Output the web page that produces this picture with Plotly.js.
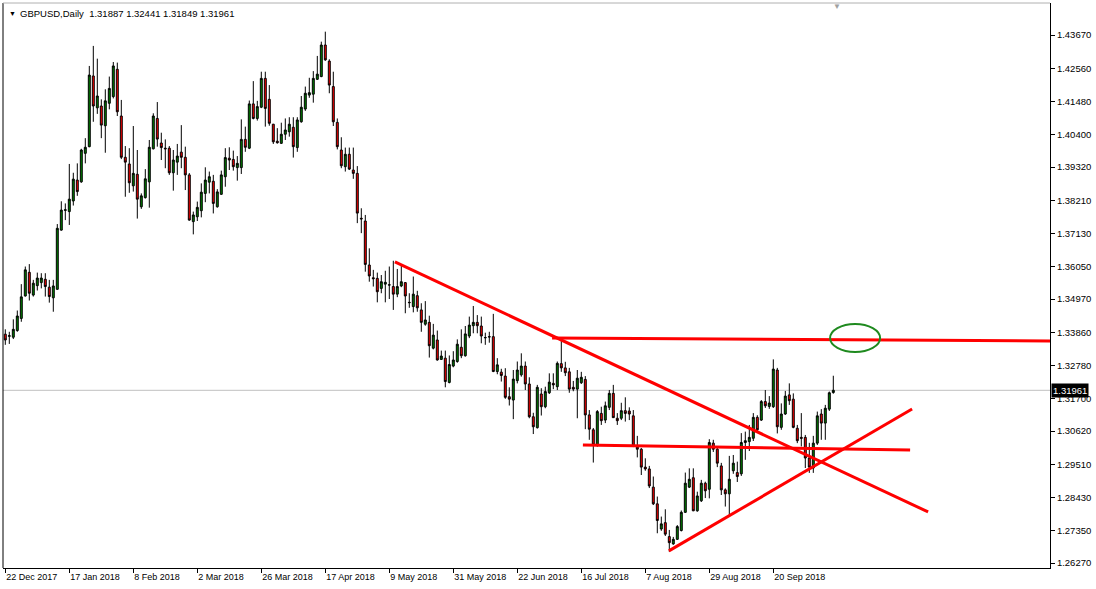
<!DOCTYPE html>
<html><head><meta charset="utf-8">
<script src="https://cdn.plot.ly/plotly-3.0.1.min.js"></script>
<style>html,body{margin:0;padding:0;background:#fff;}#chart{width:1096px;height:589px;}</style>
</head><body><div id="chart"></div>
<script>
const symbolTitle = "GBPUSD,Daily";
const open = [1.3381,1.3374,1.3371,1.3393,1.3433,1.3507,1.3585,1.3510,1.3541,1.3551,1.3562,1.3536,1.3501,1.3529,1.3724,1.3789,1.3785,1.3820,1.3889,1.3883,1.3977,1.3999,1.4232,1.4127,1.4133,1.4068,1.4142,1.4164,1.4254,1.4100,1.3964,1.3942,1.3870,1.3908,1.3801,1.3831,1.3883,1.3992,1.4092,1.4011,1.3994,1.3994,1.3913,1.3948,1.3981,1.3964,1.3906,1.3752,1.3768,1.3788,1.3845,1.3882,1.3885,1.3801,1.3842,1.3900,1.3961,1.3957,1.3930,1.3930,1.4023,1.3994,1.4140,1.4092,1.4129,1.4224,1.4155,1.4073,1.4017,1.4010,1.4040,1.4048,1.4063,1.3996,1.4081,1.4123,1.4169,1.4172,1.4221,1.4230,1.4334,1.4281,1.4197,1.4079,1.3988,1.3933,1.3974,1.3922,1.3911,1.3763,1.3754,1.3609,1.3567,1.3565,1.3532,1.3546,1.3544,1.3538,1.3513,1.3540,1.3551,1.3486,1.3472,1.3508,1.3461,1.3414,1.3420,1.3335,1.3362,1.3298,1.3302,1.3222,1.3276,1.3291,1.3338,1.3310,1.3375,1.3409,1.3420,1.3408,1.3369,1.3373,1.3373,1.3258,1.3256,1.3243,1.3175,1.3164,1.3228,1.3247,1.3276,1.3217,1.3109,1.3073,1.3184,1.3142,1.3188,1.3219,1.3208,1.3284,1.3270,1.3257,1.3206,1.3200,1.3221,1.3232,1.3115,1.3066,1.3016,1.3120,1.3098,1.3140,1.3186,1.3104,1.3104,1.3129,1.3128,1.3112,1.3009,1.3002,1.2943,1.2937,1.2877,1.2822,1.2739,1.2760,1.2714,1.2690,1.2705,1.2734,1.2794,1.2877,1.2908,1.2799,1.2832,1.2890,1.2870,1.3022,1.3002,1.2947,1.2868,1.2855,1.2931,1.2925,1.2921,1.3024,1.3027,1.3038,1.3107,1.3098,1.3159,1.3143,1.3142,1.3263,1.3074,1.3118,1.3181,1.3167,1.3071,1.3041,1.3041,1.2973,1.2940,1.3022,1.3118,1.3088,1.3134,1.31887];
const high = [1.3397,1.3389,1.3430,1.3459,1.3546,1.3604,1.3612,1.3560,1.3584,1.3582,1.3582,1.3560,1.3560,1.3744,1.3819,1.3812,1.3942,1.3913,1.3944,1.3992,1.4027,1.4265,1.4331,1.4289,1.4155,1.4188,1.4230,1.4278,1.4276,1.4153,1.4001,1.3994,1.4067,1.3988,1.3845,1.3925,1.4021,1.4109,1.4146,1.4045,1.4023,1.4001,1.3988,1.4008,1.4070,1.3999,1.3912,1.3785,1.3818,1.3878,1.3931,1.3917,1.3906,1.3859,1.3920,1.3994,1.3997,1.3986,1.3968,1.4089,1.4065,1.4151,1.4215,1.4150,1.4246,1.4246,1.4202,1.4074,1.4060,1.4078,1.4092,1.4096,1.4096,1.4096,1.4166,1.4197,1.4226,1.4248,1.4298,1.4345,1.4378,1.4287,1.4246,1.4092,1.4030,1.3996,1.3996,1.3996,1.3935,1.3796,1.3774,1.3664,1.3593,1.3584,1.3576,1.3590,1.3604,1.3623,1.3596,1.3607,1.3553,1.3516,1.3571,1.3524,1.3483,1.3490,1.3442,1.3415,1.3393,1.3327,1.3327,1.3311,1.3325,1.3364,1.3397,1.3408,1.3439,1.3474,1.3444,1.3439,1.3386,1.3389,1.3448,1.3302,1.3267,1.3269,1.3206,1.3263,1.3291,1.3318,1.3291,1.3239,1.3122,1.3214,1.3203,1.3208,1.3252,1.3252,1.3291,1.3362,1.3290,1.3270,1.3227,1.3263,1.3257,1.3243,1.3131,1.3072,1.3131,1.3142,1.3159,1.3197,1.3214,1.3121,1.3155,1.3173,1.3140,1.3131,1.3046,1.3006,1.2972,1.2947,1.2912,1.2846,1.2780,1.2804,1.2736,1.2713,1.2752,1.2800,1.2925,1.2939,1.2939,1.2862,1.2901,1.2895,1.3035,1.3033,1.3010,1.2957,1.2873,1.2980,1.2983,1.2961,1.3055,1.3060,1.3082,1.3121,1.3114,1.3164,1.3197,1.3177,1.3298,1.3270,1.3153,1.3194,1.3219,1.3186,1.3082,1.3121,1.3049,1.3023,1.3046,1.3126,1.3134,1.3148,1.3192,1.32441];
const low = [1.3346,1.3349,1.3365,1.3389,1.3422,1.3505,1.3492,1.3505,1.3525,1.3532,1.3505,1.3485,1.3455,1.3527,1.3722,1.3757,1.3741,1.3805,1.3837,1.3880,1.3944,1.3997,1.4081,1.4107,1.4027,1.3979,1.4122,1.4158,1.4100,1.3958,1.3834,1.3847,1.3851,1.3762,1.3794,1.3828,1.3798,1.3990,1.3999,1.3955,1.3928,1.3906,1.3854,1.3906,1.3928,1.3856,1.3755,1.3710,1.3754,1.3766,1.3816,1.3845,1.3779,1.3798,1.3840,1.3867,1.3922,1.3920,1.3887,1.3909,1.3982,1.3991,1.4089,1.4085,1.4126,1.4065,1.4068,1.4008,1.4009,1.4008,1.4021,1.4032,1.3963,1.3982,1.4078,1.4117,1.4160,1.4144,1.4219,1.4228,1.4282,1.4175,1.4067,1.3990,1.3928,1.3917,1.3922,1.3893,1.3747,1.3714,1.3587,1.3554,1.3538,1.3486,1.3516,1.3486,1.3497,1.3461,1.3503,1.3536,1.3450,1.3468,1.3453,1.3455,1.3389,1.3409,1.3304,1.3331,1.3294,1.3296,1.3206,1.3219,1.3272,1.3287,1.3302,1.3307,1.3368,1.3384,1.3384,1.3351,1.3346,1.3353,1.3256,1.3249,1.3225,1.3168,1.3146,1.3101,1.3219,1.3241,1.3197,1.3104,1.3052,1.3070,1.3113,1.3137,1.3184,1.3200,1.3197,1.3257,1.3243,1.3188,1.3193,1.3104,1.3217,1.3068,1.3033,1.2958,1.3010,1.3082,1.3088,1.3131,1.3105,1.3082,1.3098,1.3093,1.3098,1.3009,1.2975,1.2917,1.2931,1.2874,1.2818,1.2725,1.2733,1.2716,1.2664,1.2687,1.2703,1.2731,1.2792,1.2874,1.2798,1.2796,1.2828,1.2841,1.2840,1.2993,1.2943,1.2851,1.2813,1.2785,1.2921,1.2894,1.2914,1.2967,1.2996,1.3029,1.3059,1.3095,1.3138,1.3135,1.3138,1.3054,1.3066,1.3115,1.3148,1.3071,1.3022,1.3011,1.2940,1.2924,1.2924,1.3016,1.3033,1.3033,1.3128,1.31849];
const close = [1.3362,1.3376,1.3397,1.3441,1.3504,1.3593,1.3516,1.3549,1.3566,1.3566,1.3538,1.3505,1.3540,1.3730,1.3790,1.3791,1.3826,1.3892,1.3851,1.3988,1.3997,1.4235,1.4133,1.4166,1.4070,1.4150,1.4191,1.4265,1.4114,1.3964,1.3948,1.3880,1.3911,1.3826,1.3837,1.3893,1.3997,1.4100,1.4024,1.3996,1.3992,1.3913,1.3955,1.3968,1.3964,1.3906,1.3757,1.3774,1.3799,1.3849,1.3889,1.3900,1.3812,1.3850,1.3906,1.3963,1.3955,1.3933,1.3944,1.4023,1.3997,1.4140,1.4092,1.4131,1.4224,1.4125,1.4076,1.4015,1.4012,1.4040,1.4054,1.4073,1.3999,1.4087,1.4129,1.4175,1.4177,1.4224,1.4238,1.4334,1.4285,1.4202,1.4081,1.3999,1.3936,1.3974,1.3925,1.3911,1.3780,1.3761,1.3611,1.3573,1.3564,1.3521,1.3554,1.3552,1.3543,1.3513,1.3538,1.3554,1.3507,1.3485,1.3513,1.3468,1.3420,1.3428,1.3343,1.3378,1.3296,1.3309,1.3225,1.3281,1.3296,1.3348,1.3310,1.3382,1.3411,1.3420,1.3409,1.3375,1.3370,1.3372,1.3258,1.3280,1.3245,1.3173,1.3167,1.3233,1.3263,1.3276,1.3217,1.3109,1.3076,1.3206,1.3142,1.3192,1.3223,1.3214,1.3285,1.3270,1.3254,1.3200,1.3200,1.3236,1.3239,1.3115,1.3068,1.3016,1.3126,1.3096,1.3145,1.3186,1.3106,1.3096,1.3129,1.3120,1.3118,1.3013,1.3002,1.2943,1.2937,1.2881,1.2822,1.2767,1.2756,1.2722,1.2694,1.2705,1.2747,1.2794,1.2890,1.2903,1.2799,1.2848,1.2890,1.2865,1.3024,1.3002,1.2956,1.2868,1.2855,1.2903,1.2956,1.2912,1.3024,1.3030,1.3041,1.3107,1.3066,1.3159,1.3145,1.3154,1.3266,1.3076,1.3118,1.3177,1.3162,1.3074,1.3030,1.3038,1.2973,1.2943,1.3022,1.3112,1.3088,1.3137,1.3188,1.31961];

const dateLabels = ["22 Dec 2017","17 Jan 2018","8 Feb 2018","2 Mar 2018","26 Mar 2018","17 Apr 2018","9 May 2018","31 May 2018","22 Jun 2018","16 Jul 2018","7 Aug 2018","29 Aug 2018","20 Sep 2018"];
const dateLabelBars = [0,16,32,48,64,80,96,112,128,144,160,176,192];
const priceTicks = [1.43670,1.42560,1.41480,1.40400,1.39320,1.38210,1.37130,1.36050,1.34970,1.33860,1.32780,1.31700,1.30620,1.29510,1.28430,1.27350,1.26270];

// trend lines drawn on the chart (bar index, price)
const downTrendBars = [97.4, 230.7];
const downTrendPrices = [1.36190, 1.27953];
const resistanceBars = [136.7, 261.2];
const resistancePrices = [1.33686, 1.33587];
const supportBars = [144.4, 226.2];
const supportPrices = [1.30160, 1.29996];
const upTrendBars = [165.9, 226.7];
const upTrendPrices = [1.26668, 1.31346];
const ellipseBars = [206.2, 218.7];
const ellipsePrices = [1.33225, 1.34147];

const bars = open.map((_, i) => i);
const lastClose = close[close.length - 1];
const fontFam = "Liberation Sans, Arial, sans-serif";

const traces = [
  {type:'candlestick', x:bars, open:open, high:high, low:low, close:close,
   increasing:{line:{color:'#000000', width:1}, fillcolor:'#008000'},
   decreasing:{line:{color:'#000000', width:1}, fillcolor:'#ff0000'},
   whiskerwidth:0, hoverinfo:'skip', showlegend:false},
];
[[downTrendBars,downTrendPrices],[resistanceBars,resistancePrices],[supportBars,supportPrices],[upTrendBars,upTrendPrices]].forEach(([xs,ys]) => {
  traces.push({type:'scatter', mode:'lines', x:xs, y:ys, line:{color:'#ff0000', width:3}, hoverinfo:'skip', showlegend:false, cliponaxis:true});
});

const layout = {
  width:1096, height:589,
  margin:{l:3, r:46, t:3, b:21, pad:0},
  paper_bgcolor:'#ffffff', plot_bgcolor:'#ffffff',
  showlegend:false, hovermode:false, boxgap:0.3,
  font:{family:fontFam, size:9.5, color:'#000'},
  xaxis:{type:'linear', range:[-0.575, 261.175], rangeslider:{visible:false},
    tickvals:dateLabelBars, ticktext:dateLabels, ticks:'outside', ticklen:4, tickcolor:'#000',
    ticklabelposition:'outside right', tickfont:{family:fontFam, size:9, color:'#000'},
    showgrid:false, zeroline:false, showline:true, linecolor:'#000', linewidth:1, fixedrange:true},
  yaxis:{side:'right', range:[1.261053, 1.447244], tickvals:priceTicks, tickformat:'.5f',
    ticks:'outside', ticklen:4, tickcolor:'#000', tickfont:{family:fontFam, size:9.5, color:'#000'},
    showgrid:false, zeroline:false, showline:true, linecolor:'#000', linewidth:1, fixedrange:true},
  shapes:[
    {type:'line', xref:'paper', yref:'y', x0:0, x1:1, y0:lastClose, y1:lastClose, line:{color:'#c0c0c0', width:1}, layer:'below'},
    {type:'circle', xref:'x', yref:'y', x0:ellipseBars[0], x1:ellipseBars[1], y0:ellipsePrices[0], y1:ellipsePrices[1], line:{color:'#1f8a1f', width:2}},
    {type:'line', xref:'paper', yref:'paper', x0:0, x1:0, y0:0, y1:1, line:{color:'#000', width:1}},
    {type:'line', xref:'paper', yref:'paper', x0:0, x1:1, y0:1, y1:1, line:{color:'#b0b0b0', width:1}}
  ],
  annotations:[
    {xref:'paper', yref:'paper', x:0.0035, y:1, xanchor:'left', yanchor:'top', yshift:-5, showarrow:false,
     text:'▼', font:{family:fontFam, size:7, color:'#000'}},
    {xref:'paper', yref:'paper', x:0.0145, y:1, xanchor:'left', yanchor:'top', yshift:-3, showarrow:false,
     text:symbolTitle + '  ' + [open, high, low, close].map(a => a[a.length-1].toFixed(5)).join(' '),
     font:{family:fontFam, size:9.5, color:'#000'}},
    {xref:'paper', yref:'paper', x:0.791, y:1, xanchor:'left', yanchor:'top', yshift:3, showarrow:false,
     text:'▼', font:{family:fontFam, size:8, color:'#a0a0a0'}},
    {xref:'paper', yref:'y', x:1, y:lastClose, xanchor:'left', yanchor:'middle', xshift:1, showarrow:false,
     text:lastClose.toFixed(5), bgcolor:'#000', borderpad:1, font:{family:fontFam, size:9.5, color:'#fff'}}
  ]
};
Plotly.newPlot('chart', traces, layout, {displayModeBar:false, staticPlot:true});
</script>
</body></html>
